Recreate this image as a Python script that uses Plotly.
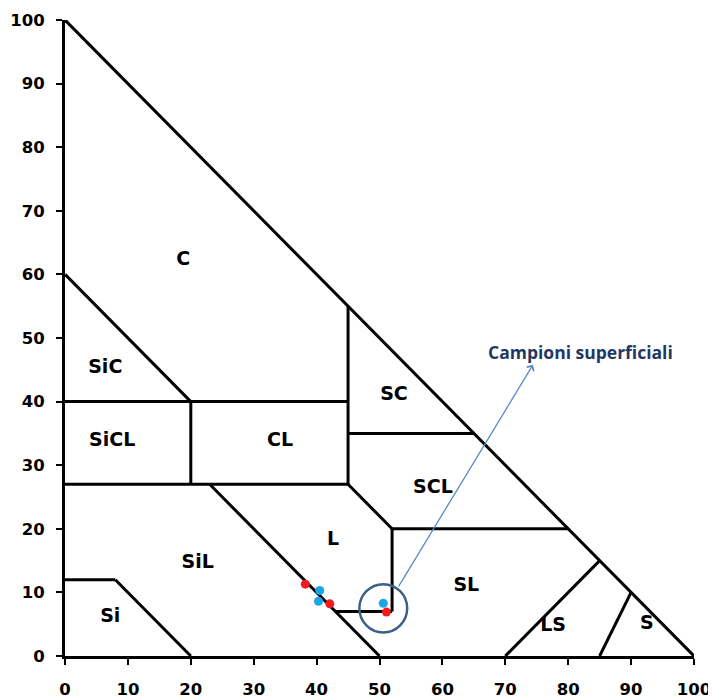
import plotly.graph_objects as go

# Boundary segments of the texture triangle (sand %, clay %)
boundary_names = ["hyp", "c_sic", "y40", "x20", "y27", "x45", "y35", "scl_l", "y20", "x52", "y7",
                  "sil_l", "si_top", "si_diag", "sl_ls", "ls_s"]
boundary_x = [[0, 100], [0, 20], [0, 45], [20, 20], [0, 45], [45, 45], [45, 65], [45, 52], [52, 80],
              [52, 52], [43, 52], [23, 50], [0, 8], [8, 20], [70, 85], [85, 90]]
boundary_y = [[100, 0], [60, 40], [40, 40], [40, 27], [27, 27], [55, 27], [35, 35], [27, 20], [20, 20],
              [20, 7], [7, 7], [27, 0], [12, 12], [12, 0], [0, 15], [0, 10]]

# Texture class labels
class_labels = ["C", "SiC", "SiCL", "CL", "SC", "SCL", "L", "SiL", "Si", "SL", "LS", "S"]
class_x = [18.8, 6.4, 7.5, 34.2, 52.3, 58.5, 42.6, 21.1, 7.2, 63.8, 77.6, 92.5]
class_y = [62.3, 45.3, 33.8, 33.8, 41.0, 26.4, 18.2, 14.6, 6.1, 11.0, 4.7, 5.0]

# Samples
red_x = [38.2, 42.1, 51.1]
red_y = [11.3, 8.2, 6.9]
blue_x = [40.5, 40.3, 50.6]
blue_y = [10.3, 8.6, 8.3]

# Highlight circle and arrow annotation
circle_center = (50.6, 7.5)
circle_r = 3.8
arrow_start = (52.9, 10.7)
arrow_end = (74.4, 45.8)
annot_text = "Campioni superficiali"
annot_pos = (82.0, 47.8)

ticks = [0, 10, 20, 30, 40, 50, 60, 70, 80, 90, 100]

fig = go.Figure()
for name, bx, by in zip(boundary_names, boundary_x, boundary_y):
    fig.add_trace(go.Scatter(x=bx, y=by, mode="lines", name=name,
                             line=dict(color="black", width=3), cliponaxis=False,
                             hoverinfo="skip", showlegend=False))

fig.add_trace(go.Scatter(x=class_x, y=class_y, mode="text", text=class_labels,
                         textfont=dict(family="DejaVu Sans", size=19, color="black",
                                       weight="bold"),
                         showlegend=False, hoverinfo="skip"))

fig.add_trace(go.Scatter(x=blue_x, y=blue_y, mode="markers",
                         marker=dict(color="#1aa6e6", size=9), showlegend=False))
fig.add_trace(go.Scatter(x=red_x, y=red_y, mode="markers",
                         marker=dict(color="#ee1c1c", size=9), showlegend=False))

cx, cy = circle_center
fig.add_shape(type="circle", xref="x", yref="y",
              x0=cx - circle_r, x1=cx + circle_r, y0=cy - circle_r, y1=cy + circle_r,
              line=dict(color="#3d5f87", width=2.5))

fig.add_annotation(x=arrow_end[0], y=arrow_end[1], ax=arrow_start[0], ay=arrow_start[1],
                   xref="x", yref="y", axref="x", ayref="y", text="", showarrow=True,
                   arrowhead=4, arrowsize=1.2, arrowwidth=1.3, arrowcolor="#5a8ac6")
fig.add_annotation(x=annot_pos[0], y=annot_pos[1], xref="x", yref="y", text=annot_text,
                   showarrow=False,
                   font=dict(family="Open Sans, Liberation Sans", size=17.5, color="#1f3864",
                             weight="bold"))

axis_common = dict(range=[0, 100], tickvals=ticks, ticktext=[str(t) for t in ticks],
                   showgrid=False, zeroline=False, showline=True, linecolor="black", linewidth=3,
                   ticks="outside", ticklen=6, tickwidth=2, tickcolor="black", automargin=False,
                   tickfont=dict(family="DejaVu Sans", size=16.5, color="black",
                                 weight="bold"))
fig.update_xaxes(**axis_common, ticklabelstandoff=10)
fig.update_yaxes(**axis_common, ticklabelstandoff=8)

fig.update_layout(width=708, height=692, margin=dict(l=57, r=22, t=12, b=44),
                  plot_bgcolor="white", paper_bgcolor="white", showlegend=False)

fig.write_html("out.html")
